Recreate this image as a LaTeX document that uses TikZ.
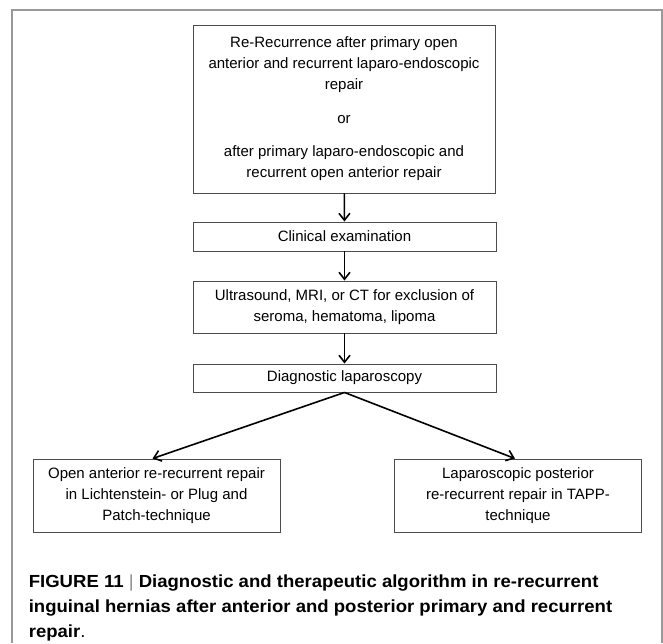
\documentclass[tikz,border=0pt]{standalone}
\usepackage{fontspec}
\setmainfont{Liberation Sans}
\newfontfamily\captionsans[FakeStretch=1.06]{Liberation Sans}
\usetikzlibrary{arrows.meta}

\begin{document}
\begin{tikzpicture}[x=1pt, y=-1pt, align=center, line width=1.6pt,
  >={Straight Barb[length=7pt, width=11pt]},
  box/.style={draw=black!70, line width=0.9pt, inner sep=0pt, minimum width=303pt,
    font=\fontsize{15}{21}\selectfont},
  lowbox/.style={box, minimum width=247pt, minimum height=73pt}]
\useasboundingbox (0,0) rectangle (663,643);
\draw[black!40, line width=1.5pt] (12,643) -- (12,10) -- (662,10) -- (662,643);

\node[box, minimum width=302pt, minimum height=168pt] (recur) at (344,109)
  {Re-Recurrence after primary open\\ anterior and recurrent laparo-endoscopic\\
   repair\\[13pt] or\\[12pt] after primary laparo-endoscopic and\\ recurrent open anterior repair};
\node[box, minimum height=29pt] (exam) at (344.5,236.5) {Clinical examination};
\node[box, minimum height=52pt] (imaging) at (344.5,307)
  {Ultrasound, MRI, or CT for exclusion of\\ seroma, hematoma, lipoma};
\node[box, minimum height=28pt] (lap) at (344.5,378) {Diagnostic laparoscopy};
\node[lowbox] (open) at (156.5,495.5)
  {Open anterior re-recurrent repair\\ in Lichtenstein- or Plug and\\ Patch-technique};
\node[lowbox] (tapp) at (518,495.5)
  {Laparoscopic posterior\\ re-recurrent repair in TAPP-\\ technique};

\path[->] (recur) edge (exam)
      (exam) edge (imaging)
      (imaging) edge (lap)
      (lap.south) edge ([xshift=-4pt]open.north)
      (lap.south) edge ([xshift=-3pt]tapp.north);

\node[anchor=north west, align=left, inner sep=0pt,
  font=\captionsans\bfseries\fontsize{17.5}{25}\selectfont] (caption) at (28,574)
  {FIGURE 11 {\mdseries\color{black!45}|} Diagnostic and therapeutic algorithm in re-recurrent\\
   inguinal hernias after anterior and posterior primary and recurrent\\
   repair{\mdseries .}};
\end{tikzpicture}
\end{document}
